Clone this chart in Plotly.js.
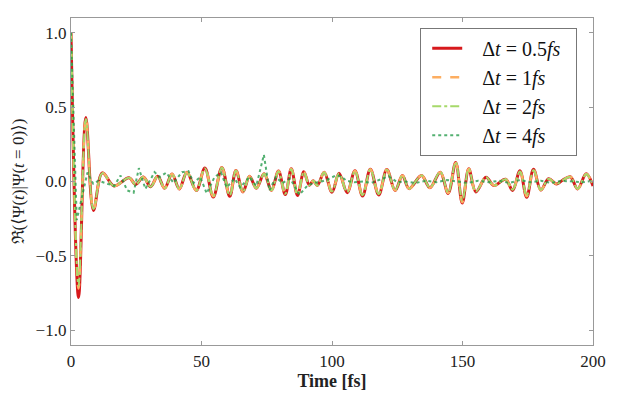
<!DOCTYPE html>
<html>
<head>
<meta charset="utf-8">
<script src="https://cdn.plot.ly/plotly-3.0.1.min.js"></script>
<style>
  body { margin: 0; background: #fff; }
  #chart { width: 623px; height: 399px; }
</style>
</head>
<body>
<div id="chart"></div>
<script>
// extrema of the autocorrelation (time in fs)
var tMain = [0, 2.9, 5.7, 8.6, 12.0, 16.5, 22.2, 24.8, 27.7, 30.5, 33.2, 35.9, 38.7, 41.5, 44.4, 48.0,
  51.3, 54.5, 57.8, 60.8, 63.2, 65.9, 68.4, 71.0, 74.0, 76.8, 79.5, 82.1, 84.4, 86.8, 89.2, 91.3,
  92.8, 94.4, 97.0, 100.0, 102.7, 105.8, 108.8, 111.7, 114.7, 117.9, 121.0, 124.2, 127.0, 129.5,
  134.3, 137.5, 141.5, 144.5, 147.4, 149.9, 152.4, 155.1, 159.0, 162.0, 166.5, 169.2, 172.0, 174.6,
  177.2, 180.0, 183.0, 186.0, 188.2, 191.3, 194.1, 197.4, 200];

var reHalf = [1.0, -0.78, 0.43, -0.195, 0.058, -0.03, 0.025, -0.02, 0.03, -0.035, 0.035, -0.045, 0.05, -0.05, 0.063, -0.06,
  0.09, -0.105, 0.095, -0.1, 0.074, -0.07, 0.035, -0.045, 0.052, -0.06, 0.07, -0.088, 0.085, -0.094, 0.065, -0.025,
  0.005, -0.027, 0.063, -0.072, 0.055, -0.075, 0.072, -0.097, 0.083, -0.09, 0.08, -0.06, 0.04, -0.048,
  0.04, -0.042, 0.063, -0.08, 0.127, -0.145, 0.085, -0.07, 0.028, -0.027, 0.015, -0.06, 0.072, -0.106,
  0.083, -0.058, 0.018, -0.016, 0.007, 0.032, -0.05, 0.052, -0.03];

var reOne = [1.0, -0.72, 0.43, -0.19, 0.058, -0.03, 0.025, -0.02, 0.03, -0.035, 0.035, -0.045, 0.05, -0.05, 0.063, -0.06,
  0.09, -0.1, 0.095, -0.098, 0.074, -0.07, 0.035, -0.045, 0.052, -0.06, 0.07, -0.085, 0.085, -0.09, 0.065, -0.025,
  0.005, -0.027, 0.063, -0.07, 0.055, -0.075, 0.072, -0.095, 0.083, -0.088, 0.08, -0.06, 0.04, -0.048,
  0.04, -0.042, 0.063, -0.078, 0.125, -0.14, 0.085, -0.07, 0.028, -0.027, 0.015, -0.058, 0.07, -0.1,
  0.08, -0.058, 0.018, -0.016, 0.007, 0.032, -0.05, 0.05, -0.03];

var reTwo = [1.0, -0.70, 0.42, -0.185, 0.055, -0.03, 0.025, -0.02, 0.03, -0.035, 0.035, -0.045, 0.05, -0.05, 0.06, -0.06,
  0.088, -0.098, 0.093, -0.095, 0.072, -0.068, 0.035, -0.045, 0.05, -0.058, 0.068, -0.083, 0.083, -0.088, 0.063, -0.025,
  0.005, -0.027, 0.06, -0.068, 0.053, -0.072, 0.07, -0.092, 0.08, -0.085, 0.078, -0.058, 0.04, -0.046,
  0.04, -0.04, 0.065, -0.075, 0.13, -0.13, 0.085, -0.068, 0.028, -0.027, 0.015, -0.055, 0.068, -0.095,
  0.078, -0.056, 0.018, -0.016, 0.007, 0.03, -0.048, 0.05, -0.03];

// dt = 4 fs run, vertices
var tFour = [0, 2.2, 6.3, 8.5, 10.5, 13.5, 16.5, 19, 21.5, 24, 26, 28.5, 32, 34, 36.5, 39.3, 42.5, 45, 47, 49.5,
  52, 55, 57.5, 59.6, 62.7, 64.8, 68.4, 71, 73.9, 76, 78.5, 81, 84, 87.5, 90.6, 93, 96, 98.5, 101.4, 103.5,
  105.5, 108.5, 112, 115, 118, 121.7, 125, 128, 132, 136, 140, 144, 148, 152, 156, 160, 164, 168, 172, 176,
  180, 184, 188, 192, 196, 200];
var reFour = [1.0, -0.26, 0.06, -0.015, 0.005, -0.01, -0.03, 0.04, -0.06, -0.075, 0.09, -0.05, 0.063, 0.03, 0.06, -0.01, 0.063, 0.07, -0.01, 0.03,
  -0.08, 0.03, 0.06, -0.04, 0.02, -0.04, 0.03, -0.03, 0.18, -0.06, 0.03, -0.01, 0.02, -0.09, -0.027, -0.01, 0.0, 0.015, 0.04, 0.035,
  0.005, -0.005, 0.0, -0.01, 0.01, 0.035, -0.005, 0.0, -0.01, 0.005, -0.005, 0.01, 0.0, -0.01, 0.005, -0.005, 0.005, -0.01, 0.01, -0.005,
  0.005, -0.01, 0.005, 0.0, -0.005, 0.005];

var legendNames = ['\u00a0\u00a0\u00a0Δ<i>t</i> = 0.5<i>fs</i>\u00a0\u00a0',
  '\u00a0\u00a0\u00a0Δ<i>t</i> = 1<i>fs</i>',
  '\u00a0\u00a0\u00a0Δ<i>t</i> = 2<i>fs</i>',
  '\u00a0\u00a0\u00a0Δ<i>t</i> = 4<i>fs</i>'];

var data = [
  {x: tMain, y: reHalf, name: legendNames[0], mode: 'lines',
   line: {color: '#d7191c', width: 3, shape: 'spline', smoothing: 1}},
  {x: tMain, y: reOne, name: legendNames[1], mode: 'lines',
   line: {color: '#fdae61', width: 2.5, dash: 'dash', shape: 'spline', smoothing: 1}},
  {x: tMain, y: reTwo, name: legendNames[2], mode: 'lines',
   line: {color: '#a6d96a', width: 2, dash: 'dashdot', shape: 'spline', smoothing: 1}},
  {x: tFour, y: reFour, name: legendNames[3], mode: 'lines', opacity: 0.75,
   line: {color: '#1a9641', width: 2, dash: 'dot'}}
];

var serif = "'Liberation Serif', 'DejaVu Serif', serif";

var layout = {
  width: 623, height: 399,
  margin: {l: 71, r: 30, t: 18, b: 54},
  paper_bgcolor: '#fff', plot_bgcolor: '#fff',
  font: {family: serif, size: 17, color: '#222'},
  showlegend: true,
  legend: {x: 0.669, y: 0.97, xanchor: 'left', yanchor: 'top',
    bordercolor: '#777', borderwidth: 1, bgcolor: '#fff', indentation: 6,
    font: {family: serif, size: 20, color: '#111'}},
  xaxis: {range: [0, 200], tickvals: [0, 50, 100, 150, 200],
    showgrid: false, zeroline: false, showline: true, linecolor: '#999', linewidth: 1.2,
    mirror: 'ticks', ticks: 'inside', ticklen: 4, tickcolor: '#999',
    title: {text: '<b>Time [fs]</b>', font: {size: 18, family: serif}, standoff: 4}},
  yaxis: {range: [-1.1, 1.1], tickvals: [-1, -0.5, 0, 0.5, 1], tickformat: '.1f',
    showgrid: false, zeroline: false, showline: true, linecolor: '#999', linewidth: 1.2,
    mirror: 'ticks', ticks: 'inside', ticklen: 4, tickcolor: '#999',
    title: {text: 'ℜ(⟨Ψ(<i>t</i>)|Ψ(<i>t</i> = 0)⟩)', font: {size: 17, family: serif}, standoff: 6}}
};

Plotly.newPlot('chart', data, layout, {displayModeBar: false, staticPlot: true});
</script>
</body>
</html>
